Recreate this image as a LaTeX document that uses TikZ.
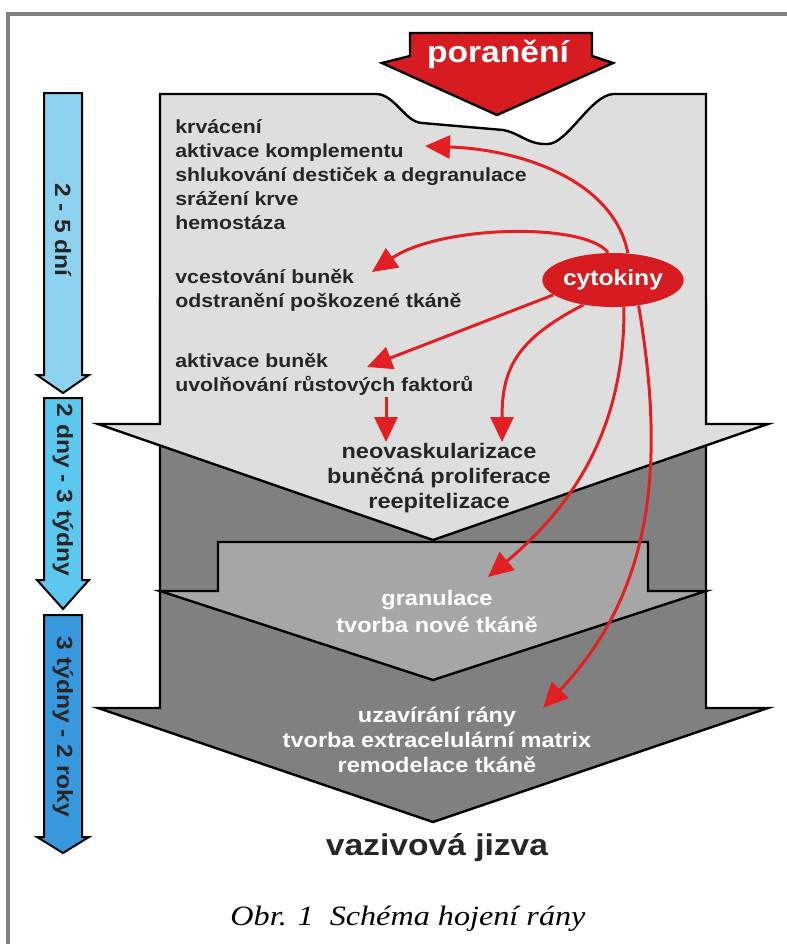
\documentclass[tikz,border=0pt]{standalone}
\usepackage{fontspec}
\setmainfont{Liberation Sans}[FakeStretch=1.12]
\newfontfamily\capfont{Liberation Serif}[FakeStretch=1.15]
\usetikzlibrary{arrows.meta,shapes.geometric}
\definecolor{svetla}{RGB}{222,222,222}
\definecolor{stredni}{RGB}{166,166,166}
\definecolor{tmava}{RGB}{128,128,128}
\definecolor{rana}{RGB}{214,28,32}
\definecolor{signal}{RGB}{226,32,36}
\definecolor{modra1}{RGB}{141,211,240}
\definecolor{modra2}{RGB}{92,200,240}
\definecolor{modra3}{RGB}{56,152,222}

\begin{document}
\begin{tikzpicture}[x=0.5pt,y=-0.5pt,
	plocha/.style={draw=black,line width=1.2pt},
	cas/.style={draw=black,line width=1pt},
	sipka/.style={draw=signal,line width=1.5pt,-{Triangle[length=12.5pt,width=11.5pt]}},
	popis/.style={font=\bfseries\fontsize{9.5}{12}\selectfont,align=left,anchor=north west,inner sep=0pt,text=black!85},
	stred/.style={font=\bfseries\fontsize{10.5}{12.5}\selectfont,align=center,anchor=north,inner sep=0pt},
	obdobi/.style={font=\bfseries\fontsize{11}{13}\selectfont,rotate=-90,inner sep=0pt,text=black!85}]
	\useasboundingbox (0,0) rectangle (787,944);
	\draw[gray,line width=1.75pt] (8,944) -- (8,14) -- (787,14);

	\filldraw[plocha,fill=tmava] (160,300) -- (706,300) -- (706,708) -- (768,708) -- (433,822) -- (98,708) -- (160,708) -- cycle;
	\filldraw[plocha,fill=stredni] (218,542) -- (648,542) -- (648,591) -- (706,591) -- (433,680) -- (160,591) -- (218,591) -- cycle;
	\filldraw[plocha,fill=svetla] (160,94) -- (377,94) .. controls (395,95) and (405,122) .. (422,123) -- (503,130)
		.. controls (520,133) and (528,145) .. (548,144) .. controls (568,143) and (590,96) .. (613,94)
		-- (706,94) -- (706,424) -- (768,424) -- (433,540) -- (98,424) -- (160,424) -- cycle;
	\filldraw[plocha,fill=rana] (410,33) -- (592,33) -- (592,56) -- (613,63) -- (497,115) -- (382,63) -- (410,56) -- cycle;
	\node[font=\bfseries\fontsize{15}{18}\selectfont,text=white,inner sep=0pt,anchor=base] (poraneni) at (498,62) {poranění};

	\filldraw[cas,fill=modra1] (44,93) -- (82,93) -- (82,375) -- (89,375) -- (63,393) -- (37,375) -- (44,375) -- cycle;
	\filldraw[cas,fill=modra2] (44,398) -- (82,398) -- (82,580) -- (89,580) -- (63,609) -- (37,580) -- (44,580) -- cycle;
	\filldraw[cas,fill=modra3] (44,615) -- (82,615) -- (82,837) -- (89,837) -- (63,853) -- (37,837) -- (44,837) -- cycle;
	\node[obdobi] (dny) at (63,230) {2 - 5 dní};
	\node[obdobi] (tydny) at (63,490) {2 dny - 3 týdny};
	\node[obdobi] (roky) at (63,727) {3 týdny - 2 roky};

	\node[popis] (hemostaza) at (175,119) {krvácení\\aktivace komplementu\\shlukování destiček a degranulace\\srážení krve\\hemostáza};
	\node[popis] (migrace) at (175,269) {vcestování buněk\\odstranění poškozené tkáně};
	\node[popis] (aktivace) at (175,353) {aktivace buněk\\uvolňování růstových faktorů};
	\node[stred,text=black!85] (proliferace) at (439,443) {neovaskularizace\\buněčná proliferace\\reepitelizace};
	\node[stred,text=white,font=\bfseries\fontsize{10.5}{13.5}\selectfont] (granulace) at (437,590) {granulace\\tvorba nové tkáně};
	\node[stred,text=white] (remodelace) at (437,707) {uzavírání rány\\tvorba extracelulární matrix\\remodelace tkáně};
	\node[font=\bfseries\fontsize{15}{18}\selectfont,inner sep=0pt,anchor=base,text=black!85] (jizva) at (437,855) {vazivová jizva};
	\node[font=\capfont\itshape\fontsize{14}{17}\selectfont,inner sep=0pt,anchor=base] (obrazek) at (408,925) {Obr. 1\ \ Schéma hojení rány};

	\node[ellipse,fill=rana,minimum width=60pt,minimum height=27pt,inner sep=0pt,text=white,font=\bfseries\fontsize{11}{13}\selectfont] (cytokiny) at (613,280) {cytokiny};
	\coordinate (k1) at (425,146);
	\coordinate (k2) at (372,272);
	\coordinate (k3) at (367,367);
	\coordinate (k4) at (502,442);
	\coordinate (z5) at (386,397);
	\coordinate (k5) at (386,442);
	\coordinate (k6) at (488,577);
	\coordinate (k7) at (543,708);
	\draw[sipka] (cytokiny.61) .. controls (615,185) and (530,150) .. (k1);
	\draw[sipka] (cytokiny.100) .. controls (585,222) and (440,225) .. (k2);
	\draw[sipka] (cytokiny.194) -- (k3);
	\draw[sipka] (cytokiny.220) .. controls (515,340) and (502,370) .. (k4);
	\draw[sipka] (z5) -- (k5);
	\draw[sipka] (cytokiny.-68) .. controls (625,420) and (580,500) .. (k6);
	\draw[sipka] (cytokiny.-45) .. controls (665,460) and (655,590) .. (k7);
\end{tikzpicture}
\end{document}
